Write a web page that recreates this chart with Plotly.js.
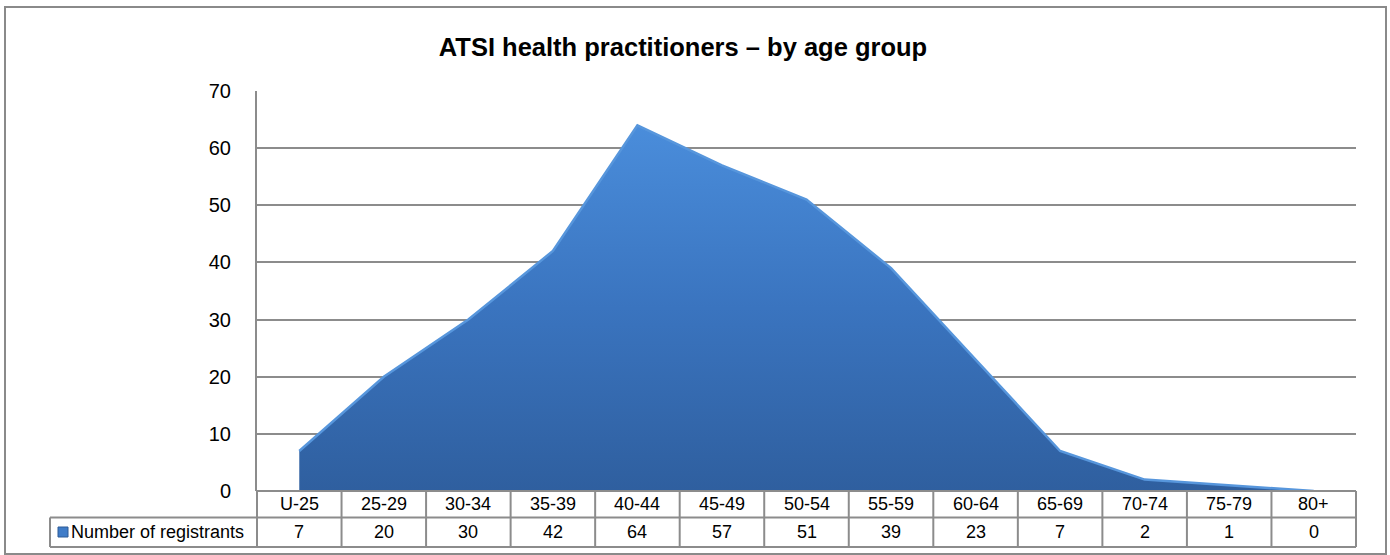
<!DOCTYPE html>
<html>
<head>
<meta charset="utf-8">
<script src="https://cdn.plot.ly/plotly-3.0.1.min.js"></script>
<style>
  html, body { margin: 0; padding: 0; background: #ffffff; }
  #chart { width: 1390px; height: 555px; }
</style>
</head>
<body>
<div id="chart"></div>
<script>
// ---- Data ----
const chartTitle = 'ATSI health practitioners \u2013 by age group';
const seriesName = 'Number of registrants';
const categories = ['U-25', '25-29', '30-34', '35-39', '40-44', '45-49', '50-54', '55-59', '60-64', '65-69', '70-74', '75-79', '80+'];
const registrants = [7, 20, 30, 42, 64, 57, 51, 39, 23, 7, 2, 1, 0];
const yTicks = [0, 10, 20, 30, 40, 50, 60, 70];

// ---- Layout geometry (pixels) ----
const W = 1390, H = 555;
const M = { l: 257, r: 34, t: 91, b: 64 };
const plotW = W - M.l - M.r;   // 1099
const plotH = H - M.t - M.b;   // 400
const px2x = px => (px - M.l) / plotW;          // paper x
const py2y = py => (H - M.b - py) / plotH;      // paper y

const gridCol = '#8c8c8c';
const row1Bottom = py2y(517.5);
const row2Bottom = py2y(547);
const legendLeft = px2x(50);
const nCat = categories.length;
const fontFam = 'Liberation Sans, Arial, sans-serif';

const shapes = [];
// outer chart border
shapes.push({ type: 'rect', xref: 'paper', yref: 'paper',
  x0: px2x(5), x1: px2x(1386), y0: py2y(554), y1: py2y(7),
  line: { color: '#8a8a8a', width: 2 }, fillcolor: 'rgba(0,0,0,0)', layer: 'below' });
// table: top line (axis at zero)
shapes.push({ type: 'line', xref: 'paper', yref: 'paper', x0: 0, x1: 1, y0: 0, y1: 0,
  line: { color: gridCol, width: 2 } });
// row separators
shapes.push({ type: 'line', xref: 'paper', yref: 'paper', x0: legendLeft, x1: 1, y0: row1Bottom, y1: row1Bottom,
  line: { color: gridCol, width: 2 } });
shapes.push({ type: 'line', xref: 'paper', yref: 'paper', x0: legendLeft, x1: 1, y0: row2Bottom, y1: row2Bottom,
  line: { color: gridCol, width: 2 } });
// legend cell left edge
shapes.push({ type: 'line', xref: 'paper', yref: 'paper', x0: legendLeft, x1: legendLeft, y0: row1Bottom, y1: row2Bottom,
  line: { color: gridCol, width: 2 } });
// vertical cell separators
for (let i = 0; i <= nCat; i++) {
  const xp = i / nCat;
  shapes.push({ type: 'line', xref: 'paper', yref: 'paper', x0: xp, x1: xp, y0: 0, y1: row2Bottom,
    line: { color: gridCol, width: 2 } });
}
// legend key
shapes.push({ type: 'rect', xref: 'paper', yref: 'paper',
  x0: px2x(58), x1: px2x(68), y0: py2y(537), y1: py2y(527),
  line: { color: '#2c5a96', width: 1 }, fillcolor: '#3f7cc8' });

const annotations = [];
const cellFont = { family: fontFam, size: 18, color: '#000000' };
const row1Mid = (0 + row1Bottom) / 2;
const row2Mid = (row1Bottom + row2Bottom) / 2;
categories.forEach((c, i) => {
  annotations.push({ xref: 'x', yref: 'paper', x: c, y: row1Mid, text: c, showarrow: false,
    font: cellFont, xanchor: 'center', yanchor: 'middle' });
  annotations.push({ xref: 'x', yref: 'paper', x: c, y: row2Mid, text: String(registrants[i]), showarrow: false,
    font: cellFont, xanchor: 'center', yanchor: 'middle' });
});
annotations.push({ xref: 'paper', yref: 'paper', x: px2x(69), y: row2Mid, text: seriesName, showarrow: false,
  font: cellFont, xanchor: 'left', yanchor: 'middle' });

const trace = {
  type: 'scatter',
  mode: 'lines',
  x: categories,
  y: registrants,
  fill: 'tozeroy',
  fillgradient: {
    type: 'vertical',
    start: 0,
    stop: 64,
    colorscale: [[0, '#2f5f9f'], [0.5, '#3a74bf'], [1, '#4a8ddb']]
  },
  line: { color: '#5796dc', width: 2.5 },
  hoverinfo: 'skip',
  showlegend: false
};

const layout = {
  width: W, height: H,
  margin: M,
  paper_bgcolor: '#ffffff',
  plot_bgcolor: '#ffffff',
  title: {
    text: '<b>' + chartTitle + '</b>',
    font: { family: fontFam, size: 25.5, color: '#000000' },
    x: 683 / W, xref: 'container', xanchor: 'center',
    y: 1 - 47 / H, yref: 'container', yanchor: 'middle'
  },
  xaxis: {
    type: 'category',
    range: [-0.5, nCat - 0.5],
    showgrid: false, zeroline: false, showline: false,
    showticklabels: false, ticks: '', fixedrange: true
  },
  yaxis: {
    range: [0, 70],
    tickvals: yTicks,
    showgrid: true, gridcolor: gridCol, gridwidth: 2,
    zeroline: false,
    showline: true, linecolor: gridCol, linewidth: 2,
    ticks: '',
    ticklabelstandoff: 20,
    tickfont: { family: fontFam, size: 20, color: '#000000' },
    fixedrange: true
  },
  shapes: shapes,
  annotations: annotations,
  showlegend: false
};

Plotly.newPlot('chart', [trace], layout, { displayModeBar: false, staticPlot: true });
</script>
</body>
</html>
